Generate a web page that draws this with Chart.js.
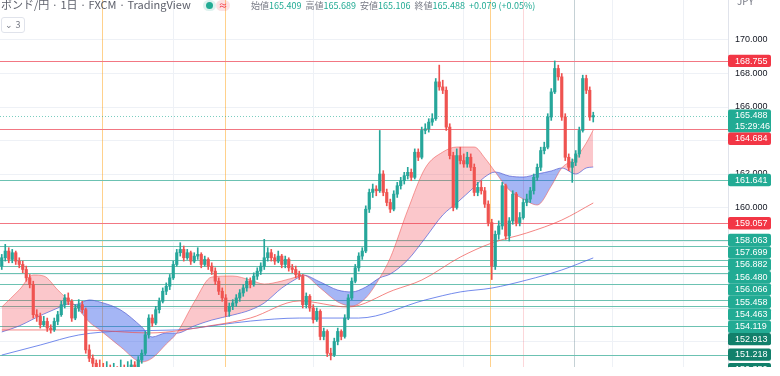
<!DOCTYPE html>
<html lang="ja">
<head>
<meta charset="utf-8">
<title>GBP/JPY 1D</title>
<script src="https://cdn.jsdelivr.net/npm/chart.js@4.4.1/dist/chart.umd.min.js"></script>
<style>
  html, body { margin: 0; padding: 0; background: #fff; }
  #wrap { position: relative; width: 780px; height: 376px; overflow: hidden; font-family: "Noto Sans CJK JP", "Noto Sans", sans-serif; }
  #priceChart { position: absolute; left: 0; top: 0; }
  .sym { position: absolute; top: -4px; left: 1px; font-size: 11px; color: #5d606b; white-space: nowrap; }
  .pill { position: absolute; top: 0; height: 11px; border-radius: 6px; }
  .pill.ok { left: 203px; width: 13px; background: rgba(34,171,148,0.15); }
  .pill.ok i { position: absolute; left: 3px; top: 2px; width: 7px; height: 7px; border-radius: 50%; background: #22ab94; }
  .pill.warn { left: 216px; width: 14px; background: rgba(242,54,69,0.15); color: #f23645; font-size: 9px; line-height: 11px; text-align: center; }
  .ohlc { position: absolute; top: -1px; left: 251px; font-size: 9px; color: #787b86; white-space: nowrap; }
  .ohlc b { font-weight: normal; color: #22ab94; margin-right: 4px; }
  .toggle { position: absolute; left: 1px; top: 17px; width: 22px; height: 14px; border: 1px solid #e0e3eb; border-radius: 3px; font-size: 9px; line-height: 14px; color: #787b86; text-align: center; background: #fff; }
  .ccy { position: absolute; top: -7px; left: 737px; font-size: 10px; color: #787b86; }
</style>
</head>
<body>
<div id="wrap">
  <canvas id="priceChart" width="780" height="376"></canvas>
  <div class="sym">ポンド/円 · 1日 · FXCM · TradingView</div>
  <div class="pill ok"><i></i></div>
  <div class="pill warn">≈</div>
  <div class="ohlc" id="ohlc"></div>
  <div class="toggle">⌄ 3</div>
  <div class="ccy">JPY</div>
</div>
<script>
// daily candles, oldest first
const opens = [
  156.5,157.0,157.4,156.9,157.3,156.8,156.6,156.3,155.8,155.4,
  153.6,153.5,153.0,153.2,152.8,152.7,153.2,153.6,154.2,154.6,
  154.4,153.4,154.0,154.2,153.9,151.5,151.0,150.7,150.3,149.8,
  149.6,149.9,149.5,149.7,149.4,149.8,149.6,150.0,150.6,150.3,
  150.9,151.3,152.4,153.4,153.1,153.9,154.4,155.0,155.3,155.8,
  156.6,157.3,157.5,157.0,157.3,156.8,157.1,157.2,156.6,156.9,
  156.5,156.2,155.6,155.0,154.6,153.8,154.1,154.3,154.6,154.9,
  155.2,155.6,155.4,155.9,156.2,156.5,157.0,157.3,157.0,156.8,
  157.1,156.6,156.9,156.4,156.3,156.0,155.9,154.2,154.7,154.0,
  153.3,153.8,152.3,152.6,151.3,151.2,152.0,152.6,152.3,153.4,
  154.6,155.6,156.4,157.1,157.4,159.9,160.9,161.1,161.0,162.0,
  160.9,160.3,159.9,160.8,161.3,161.6,161.9,162.1,161.8,163.3,
  163.0,164.6,164.7,165.1,165.3,167.5,167.2,167.0,164.8,163.1,
  160.0,163.1,162.8,162.6,163.0,162.4,160.9,161.2,161.0,160.2,
  159.1,156.5,158.4,158.9,161.3,158.3,159.2,160.8,159.1,159.4,
  160.3,160.5,161.0,161.8,162.4,163.4,163.6,165.4,166.9,168.3,
  167.8,165.4,163.0,162.4,162.7,163.2,164.6,167.7,167.0,165.409
];
const highs = [
  157.2,157.8,157.6,157.5,157.4,157.0,156.8,156.5,156.0,155.6,
  153.9,153.7,153.5,153.4,153.0,153.4,153.8,154.4,154.8,154.9,
  154.5,154.2,154.5,154.4,154.0,151.8,151.2,150.9,150.9,150.7,
  150.8,150.6,150.7,150.5,150.9,150.6,150.8,150.9,150.8,151.1,
  151.5,152.6,153.6,153.6,154.1,154.6,155.2,155.5,156.0,156.8,
  157.5,157.9,157.7,157.5,157.4,157.3,157.6,157.3,157.1,157.0,
  156.7,156.4,155.8,155.2,154.8,154.3,154.5,154.8,155.1,155.4,
  155.8,155.8,156.1,156.4,156.7,158.1,157.6,157.5,157.2,157.4,
  157.2,157.1,157.0,156.6,156.5,156.2,156.0,154.9,154.8,154.2,
  154.0,153.9,152.8,152.7,151.6,152.2,152.8,152.7,153.6,154.8,
  155.8,156.6,157.3,157.6,160.1,161.1,161.4,161.3,164.6,162.2,
  161.1,160.5,161.0,161.5,161.8,162.1,162.4,162.3,163.5,163.5,
  164.8,165.0,165.3,165.6,167.7,168.5,167.6,167.2,165.0,163.3,
  163.5,163.6,163.2,163.3,163.2,162.6,161.5,161.6,161.2,160.4,
  159.3,158.6,159.2,161.5,161.4,159.4,161.0,160.9,159.7,160.5,
  160.8,161.2,162.0,162.6,163.6,163.9,165.6,167.1,168.75,168.5,
  168.0,165.6,163.2,162.9,163.4,164.8,167.9,167.9,167.2,165.689
];
const lows = [
  156.3,156.8,156.7,156.7,156.6,156.4,156.1,155.6,155.2,153.4,
  153.2,152.8,152.9,152.6,152.5,152.6,153.0,153.5,154.0,154.2,
  153.2,153.3,153.8,153.7,151.3,150.8,150.4,150.0,149.5,149.3,
  149.4,149.2,149.3,149.1,149.2,149.3,149.4,149.8,150.1,150.2,
  150.7,151.2,152.2,152.9,153.0,153.7,154.3,154.8,155.1,155.7,
  156.5,157.1,156.8,156.9,156.6,156.7,156.9,156.4,156.5,156.3,
  156.0,155.4,154.8,154.4,153.5,153.5,153.9,154.1,154.4,154.7,
  155.0,155.2,155.3,155.7,156.0,156.3,156.8,156.8,156.6,156.7,
  156.4,156.4,156.2,156.1,155.8,155.7,154.0,154.0,153.8,153.1,
  153.2,152.1,152.1,151.1,150.9,151.1,151.8,152.1,152.2,153.3,
  154.5,155.5,156.2,156.9,157.3,159.7,160.6,160.7,160.9,160.7,
  160.1,159.7,159.8,160.6,161.1,161.4,161.7,161.6,161.7,162.8,
  162.9,164.4,164.5,164.9,165.2,167.0,166.8,164.6,162.9,159.8,
  159.9,162.6,162.4,162.4,162.2,160.7,160.7,160.8,160.0,158.9,
  155.7,156.3,158.1,158.7,158.1,158.0,159.0,158.9,158.9,159.3,
  160.1,160.3,160.8,161.6,162.2,163.2,163.5,165.2,166.8,167.6,
  165.2,162.8,162.2,161.5,162.5,163.0,164.5,166.8,165.2,165.106
];
const closes = [
  157.0,157.4,156.9,157.3,156.8,156.6,156.3,155.8,155.4,153.6,
  153.5,153.0,153.2,152.8,152.7,153.2,153.6,154.2,154.6,154.4,
  153.4,154.0,154.2,153.9,151.5,151.0,150.7,150.3,149.8,149.6,
  149.9,149.5,149.7,149.4,149.8,149.6,150.0,150.6,150.3,150.9,
  151.3,152.4,153.4,153.1,153.9,154.4,155.0,155.3,155.8,156.6,
  157.3,157.5,157.0,157.3,156.8,157.1,157.2,156.6,156.9,156.5,
  156.2,155.6,155.0,154.6,153.8,154.1,154.3,154.6,154.9,155.2,
  155.6,155.4,155.9,156.2,156.5,157.0,157.3,157.0,156.8,157.1,
  156.6,156.9,156.4,156.3,156.0,155.9,154.2,154.7,154.0,153.3,
  153.8,152.3,152.6,151.3,151.2,152.0,152.6,152.3,153.4,154.6,
  155.6,156.4,157.1,157.4,159.9,160.9,161.1,161.0,162.0,160.9,
  160.3,159.9,160.8,161.3,161.6,161.9,162.1,161.8,163.3,163.0,
  164.6,164.7,165.1,165.3,167.5,167.2,167.0,164.8,163.1,160.0,
  163.1,162.8,162.6,163.0,162.4,160.9,161.2,161.0,160.2,159.1,
  156.5,158.4,158.9,161.3,158.3,159.2,160.8,159.1,159.4,160.3,
  160.5,161.0,161.8,162.4,163.4,163.6,165.4,166.9,168.3,167.8,
  165.4,163.0,162.4,162.7,163.2,164.6,167.7,167.0,165.4,165.488
];

// cloud edges read at these candle positions
const cloudX = [0,5,9,12,16,19,21,25,28,34,40,43,47,50,55,60,66,71,75,80,85,86,91,96,100,104,108,111,116,121,126,130,135,138,141,145,149,153,157,160,164,167,169];
const cloudA = [154.06,155.08,155.97,155.91,155.08,154.48,154.15,153.16,152.69,151.67,150.78,151.01,151.85,152.50,154.36,155.85,155.91,155.67,155.43,155.61,155.91,155.97,155.19,154.36,154.12,154.60,155.80,156.99,159.85,162.36,163.31,163.61,163.61,162.96,162.12,161.04,160.51,160.15,161.28,162.36,162.96,163.85,164.63];
const cloudB = [152.57,152.93,153.34,153.64,154.00,154.24,154.20,154.48,154.36,153.88,152.87,152.27,152.51,152.50,152.93,153.28,153.58,153.88,154.30,155.19,155.85,155.97,155.55,155.07,154.96,155.25,155.80,156.03,156.87,158.18,159.55,160.27,161.22,161.82,162.12,161.88,161.82,162.00,162.18,162.36,162.00,162.36,162.42];

// moving averages
const maRedX = [0,23,42,61,71,85,99,112,120,131,140,150,160,169];
const maRed = [152.69,152.69,152.51,152.99,153.40,154.42,154.06,155.07,155.67,157.04,157.88,158.48,159.25,160.27];
const maBlueX = [0,11,22,35,50,62,71,85,102,121,131,140,150,160,169];
const maBlue = [151.19,151.79,152.39,152.63,152.69,152.99,153.22,153.40,153.40,154.48,154.96,155.19,155.67,156.27,156.99];

// horizontal levels
const levelsRed = [168.755, 164.684, 159.057];
const levelsGreen = [161.641, 158.063, 157.699, 156.882, 156.480, 156.066, 155.458, 154.463, 154.119, 152.913, 151.218, 150.350];
const countdown = '15:29:46';
const hiddenTicks = [150, 152, 154, 156, 158, 164];

// vertical marks, in candle positions
const vOrange = [28.6, 63.8, 139.5];
const vPink = [149];
const vGrid = [48.9, 88.9, 131.8, 174.4, 194.6];
const vCursor = 163.5;

const upColor = '#26a69a';
const downColor = '#ef5350';
const last = closes.length - 1;
const lastPrice = closes[last];

// legend line
document.getElementById('ohlc').innerHTML =
  '始値<b>' + opens[last].toFixed(3) + '</b>高値<b>' + highs[last].toFixed(3) +
  '</b>安値<b>' + lows[last].toFixed(3) + '</b>終値<b>' + lastPrice.toFixed(3) +
  '</b><b>+0.079 (+0.05%)</b>';

const candleColor = ctx => closes[ctx.dataIndex] >= opens[ctx.dataIndex] ? upColor : downColor;
const toPoints = (xs, ys) => xs.map((x, k) => ({ x: x, y: ys[k] }));

const overlay = {
  id: 'overlay',
  beforeDatasetsDraw(chart) {
    const { ctx, chartArea: a, scales: { x, y } } = chart;
    ctx.save();
    ctx.beginPath();
    ctx.rect(a.left, a.top, a.right - a.left, a.bottom - a.top);
    ctx.clip();
    ctx.lineWidth = 1;
    const vline = (v, color) => {
      const px = Math.round(x.getPixelForValue(v)) + 0.5;
      ctx.strokeStyle = color;
      ctx.beginPath(); ctx.moveTo(px, a.top); ctx.lineTo(px, a.bottom); ctx.stroke();
    };
    const hline = (p, color, dash) => {
      const py = Math.round(y.getPixelForValue(p)) + 0.5;
      ctx.setLineDash(dash || []);
      ctx.strokeStyle = color;
      ctx.beginPath(); ctx.moveTo(a.left, py); ctx.lineTo(a.right, py); ctx.stroke();
      ctx.setLineDash([]);
    };
    vGrid.forEach(v => vline(v, '#eef1f6'));
    vPink.forEach(v => vline(v, 'rgba(242,54,69,0.2)'));
    vOrange.forEach(v => vline(v, 'rgba(255,152,0,0.45)'));
    vline(vCursor, 'rgba(110,140,150,0.4)');
    levelsGreen.forEach(p => hline(p, '#6cc2b2'));
    levelsRed.forEach(p => hline(p, '#f27783'));
    hline(lastPrice, 'rgba(34,171,148,0.6)', [1, 2]);
    ctx.restore();
  },
  afterDraw(chart) {
    const { ctx, chartArea: a, scales: { y } } = chart;
    const items = [{ p: lastPrice, lines: [lastPrice.toFixed(3), countdown], color: '#22ab94', above: 6, h: 23 }];
    levelsRed.forEach(p => items.push({ p, lines: [p.toFixed(3)], color: '#f23645', above: 6.2, h: 12.4 }));
    levelsGreen.forEach(p => items.push({ p, lines: [p.toFixed(3)], color: p < 153 ? '#12806b' : '#22ab94', above: 6.2, h: 12.4 }));
    items.forEach(it => { it.top = y.getPixelForValue(it.p) - it.above; });
    items.sort((m, n) => m.top - n.top);
    let bottom = -Infinity;
    items.forEach(it => { it.top = Math.max(it.top, bottom); bottom = it.top + it.h; });

    ctx.save();
    ctx.beginPath();
    ctx.rect(a.right, 0, chart.width - a.right, a.bottom);
    ctx.clip();
    ctx.font = '9px "Liberation Sans", Arial, sans-serif';
    ctx.textBaseline = 'middle';
    ctx.textAlign = 'left';
    items.forEach(it => {
      ctx.fillStyle = it.color;
      ctx.beginPath();
      ctx.roundRect(a.right, it.top, 43, it.h, 2);
      ctx.fill();
      ctx.fillStyle = '#fff';
      it.lines.forEach((t, k) => ctx.fillText(t, a.right + 7, it.top + 6.4 + k * 11));
    });
    ctx.restore();
  }
};

new Chart(document.getElementById('priceChart'), {
  type: 'bar',
  data: {
    datasets: [
      {
        label: 'body',
        data: closes.map((c, i) => ({ x: i, y: [opens[i], c] })),
        backgroundColor: candleColor,
        barThickness: 2.5,
        minBarLength: 1,
        grouped: false,
        order: 0
      },
      {
        label: 'wick',
        data: closes.map((c, i) => ({ x: i, y: [lows[i], highs[i]] })),
        backgroundColor: candleColor,
        barThickness: 1,
        grouped: false,
        order: 1
      },
      {
        type: 'line',
        label: 'MA red',
        data: toPoints(maRedX, maRed),
        borderColor: 'rgba(239,83,80,0.7)',
        borderWidth: 1,
        pointRadius: 0,
        cubicInterpolationMode: 'monotone',
        order: 2
      },
      {
        type: 'line',
        label: 'MA blue',
        data: toPoints(maBlueX, maBlue),
        borderColor: 'rgba(70,100,230,0.75)',
        borderWidth: 1,
        pointRadius: 0,
        cubicInterpolationMode: 'monotone',
        order: 2
      },
      {
        type: 'line',
        label: 'span A',
        data: toPoints(cloudX, cloudA),
        borderColor: 'rgba(239,83,80,0.55)',
        borderWidth: 1,
        pointRadius: 0,
        cubicInterpolationMode: 'monotone',
        fill: { target: '+1', above: 'rgba(242,54,69,0.28)', below: 'rgba(41,82,230,0.42)' },
        order: 3
      },
      {
        type: 'line',
        label: 'span B',
        data: toPoints(cloudX, cloudB),
        borderColor: 'rgba(80,100,220,0.7)',
        borderWidth: 1,
        pointRadius: 0,
        cubicInterpolationMode: 'monotone',
        order: 3
      }
    ]
  },
  options: {
    responsive: false,
    animation: false,
    layout: { padding: { left: 0, right: 0, top: 0, bottom: 9 } },
    plugins: { legend: { display: false }, tooltip: { enabled: false } },
    scales: {
      x: { type: 'linear', display: false, offset: false, min: -0.5, max: 207.5 },
      y: {
        position: 'right',
        min: 150.478,
        max: 172.388,
        beginAtZero: false,
        afterFit: s => { s.width = 52; s.paddingTop = 0; s.paddingBottom = 0; },
        afterBuildTicks: s => { s.ticks = s.ticks.filter(t => Number.isInteger(t.value) && t.value % 2 === 0); },
        ticks: {
          stepSize: 2,
          padding: 7,
          color: '#131722',
          font: { size: 9, family: '"Liberation Sans", Arial, sans-serif' },
          callback: v => hiddenTicks.includes(v) ? '' : v.toFixed(3)
        },
        grid: { color: '#eef1f6', drawTicks: false },
        border: { display: true, color: '#e0e3eb' }
      }
    }
  },
  plugins: [overlay]
});
</script>
</body>
</html>
